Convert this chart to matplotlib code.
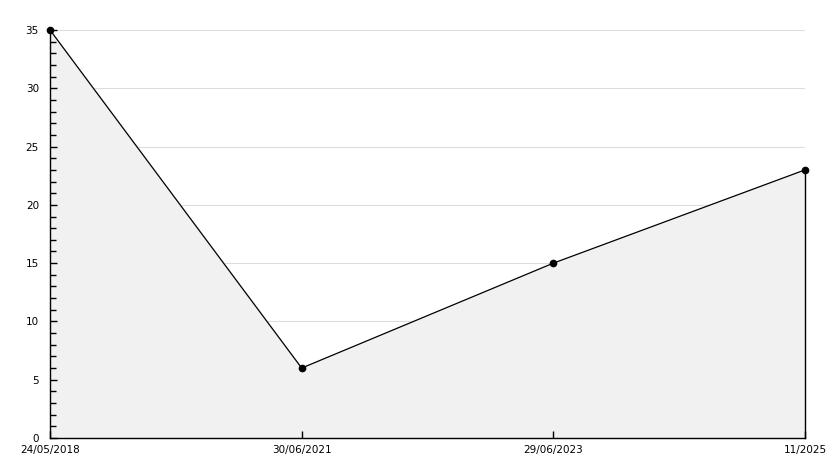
import matplotlib
matplotlib.use("Agg")
import matplotlib.pyplot as plt
from matplotlib.ticker import MultipleLocator

categories = ["24/05/2018", "30/06/2021", "29/06/2023", "11/2025"]
values = [35, 6, 15, 23]
y_ticks = [0, 5, 10, 15, 20, 25, 30, 35]

fig = plt.figure(figsize=(8.34, 4.68), dpi=100)
ax = fig.add_axes([50/834, 1 - 438/468, 755/834, 408/468])
x = list(range(len(categories)))
ax.hlines(y_ticks[1:], 0, len(categories) - 1, color="#dddddd", lw=0.8, zorder=0)
ax.fill_between(x, values, 0, color="#f1f1f1", zorder=1)
ax.plot(x, values, color="black", lw=0.9, marker="o", ms=4.5, zorder=3, clip_on=False)
ax.plot([x[-1], x[-1]], [0, values[-1]], color="black", lw=1.0, zorder=3, clip_on=False)
ax.set_xlim(0, len(categories) - 1)
ax.set_ylim(0, 35)
ax.set_yticks(y_ticks)
ax.yaxis.set_minor_locator(MultipleLocator(1))
ax.set_xticks(x)
ax.set_xticklabels(categories)
ax.set_axisbelow(False)
for s in ["top", "right"]:
    ax.spines[s].set_visible(False)
ax.spines["left"].set_linewidth(1.0)
ax.spines["bottom"].set_linewidth(1.0)
ax.tick_params(axis="y", which="major", direction="in", length=5, width=1, labelsize=7.5, pad=8)
ax.tick_params(axis="y", which="minor", direction="in", length=4, width=1)
ax.tick_params(axis="x", direction="in", length=5, width=1, labelsize=7.5, pad=5)
ax.tick_params(axis="x", which="minor", bottom=False)
fig.savefig("out.png", dpi=100, facecolor="white")
